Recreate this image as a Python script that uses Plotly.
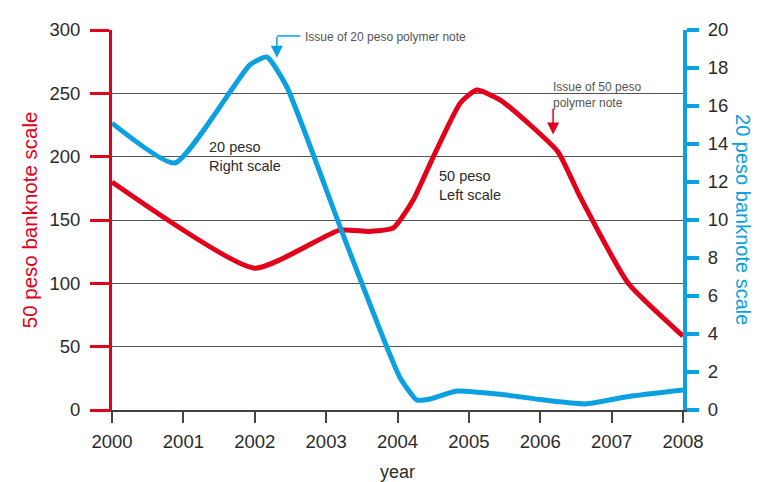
import plotly.graph_objects as go

# 50 peso series (left scale)
years_50 = [2000, 2002.0, 2003.19, 2003.6, 2003.94, 2004.22, 2004.5, 2004.88, 2005.11, 2005.44, 2005.86,
            2006.25, 2006.56, 2007.23, 2008]
values_50 = [180, 112, 142, 141, 143.7, 165.8, 199.7, 242.4, 252.6, 244.7, 225,
             203.7, 168.2, 100.3, 58.4]

# 20 peso series (right scale)
years_20 = [2000, 2000.88, 2001.93, 2002.17, 2002.45, 2003.25, 2004.03, 2004.27,
            2004.46, 2004.83, 2005.5, 2006.0, 2006.63, 2007.22, 2008]
values_20 = [15.1, 13.0, 18.16, 18.58, 17.0, 9.1, 1.74, 0.53,
             0.58, 1.0, 0.8, 0.55, 0.32, 0.7, 1.05]

x_ticks = [2000, 2001, 2002, 2003, 2004, 2005, 2006, 2007, 2008]
left_ticks = [0, 50, 100, 150, 200, 250, 300]
right_ticks = [0, 2, 4, 6, 8, 10, 12, 14, 16, 18, 20]

RED = "#e2001a"
BLUE = "#0ba0e0"
TXT = "#2b2b2b"
FONT = "Liberation Sans, Arial, sans-serif"

fig = go.Figure()
fig.add_trace(go.Scatter(x=years_20, y=values_20, yaxis="y2", mode="lines",
                         line=dict(color=BLUE, width=5, shape="spline", smoothing=0.5),
                         hoverinfo="skip", showlegend=False))
fig.add_trace(go.Scatter(x=years_50, y=values_50, yaxis="y", mode="lines",
                         line=dict(color=RED, width=5, shape="spline", smoothing=0.5),
                         hoverinfo="skip", showlegend=False))

fig.update_layout(
    width=751, height=474,
    margin=dict(l=104, r=76, t=22, b=72, autoexpand=False),
    paper_bgcolor="white", plot_bgcolor="white",
    font=dict(family=FONT, color=TXT),
    xaxis=dict(range=[2000, 2008], tickvals=x_ticks, ticktext=[str(v) for v in x_ticks],
               showgrid=False, zeroline=False, showline=True, linecolor="#444", linewidth=1.5,
               ticks="outside", ticklen=11, tickwidth=1.5, tickcolor="#444", automargin=False,
               tickfont=dict(size=18.5, color=TXT), ticklabelstandoff=3,
               title=dict(text="year", font=dict(size=18, color=TXT), standoff=21)),
    yaxis=dict(range=[0, 300], tickvals=left_ticks, showgrid=True, gridcolor="#555", gridwidth=1,
               zeroline=False, showline=True, linecolor=RED, linewidth=3, automargin=False,
               ticks="outside", ticklen=19, tickwidth=3, tickcolor=RED,
               tickfont=dict(size=18.5, color=TXT), ticklabelstandoff=6),
    yaxis2=dict(range=[0, 20], tickvals=right_ticks, overlaying="y", side="right",
                showgrid=False, zeroline=False, showline=True, linecolor=BLUE, linewidth=4,
                ticks="outside", ticklen=12, tickwidth=4, tickcolor=BLUE, automargin=False,
                tickfont=dict(size=18.5, color=TXT), ticklabelstandoff=5),
)

# Axis titles
fig.add_annotation(text="50 peso banknote scale", xref="paper", yref="paper", x=-0.145, y=0.5,
                   textangle=-90, showarrow=False, font=dict(size=20.5, color=RED),
                   xanchor="center", yanchor="middle")
fig.add_annotation(text="20 peso banknote scale", xref="paper", yref="paper", x=1.105, y=0.5,
                   textangle=90, showarrow=False, font=dict(size=20, color=BLUE),
                   xanchor="center", yanchor="middle")

# Series labels
fig.add_annotation(text="20 peso<br>Right scale", x=2001.33, y=200, xref="x", yref="y",
                   showarrow=False, xanchor="left", yanchor="middle", align="left",
                   font=dict(size=14.5, color=TXT))
fig.add_annotation(text="50 peso<br>Left scale", x=2004.55, y=177.5, xref="x", yref="y",
                   showarrow=False, xanchor="left", yanchor="middle", align="left",
                   font=dict(size=14.5, color=TXT))

# Issue of 20 peso note: elbow arrow
fig.add_shape(type="line", x0=2002.31, x1=2002.64, y0=295.3, y1=295.3, xref="x", yref="y",
              line=dict(color=BLUE, width=1.5))
fig.add_annotation(x=2002.31, y=278.0, ax=2002.31, ay=295.6, xref="x", yref="y", axref="x", ayref="y",
                   text="", showarrow=True, arrowhead=2, arrowsize=1.6, arrowwidth=1.5, arrowcolor=BLUE)
fig.add_annotation(text="Issue of 20 peso polymer note", x=2002.67, y=294.5, xref="x", yref="y",
                   showarrow=False, xanchor="left", yanchor="middle", font=dict(size=12, color="#555"))

# Issue of 50 peso note
fig.add_annotation(x=2006.18, y=217.5, ax=2006.18, ay=239, xref="x", yref="y", axref="x", ayref="y",
                   text="", showarrow=True, arrowhead=2, arrowsize=1.6, arrowwidth=1.5, arrowcolor=RED)
fig.add_annotation(text="Issue of 50 peso<br>polymer note", x=2006.15, y=249, xref="x", yref="y",
                   showarrow=False, xanchor="left", yanchor="middle", align="left",
                   font=dict(size=12, color="#555"))

fig.write_html("out.html")
